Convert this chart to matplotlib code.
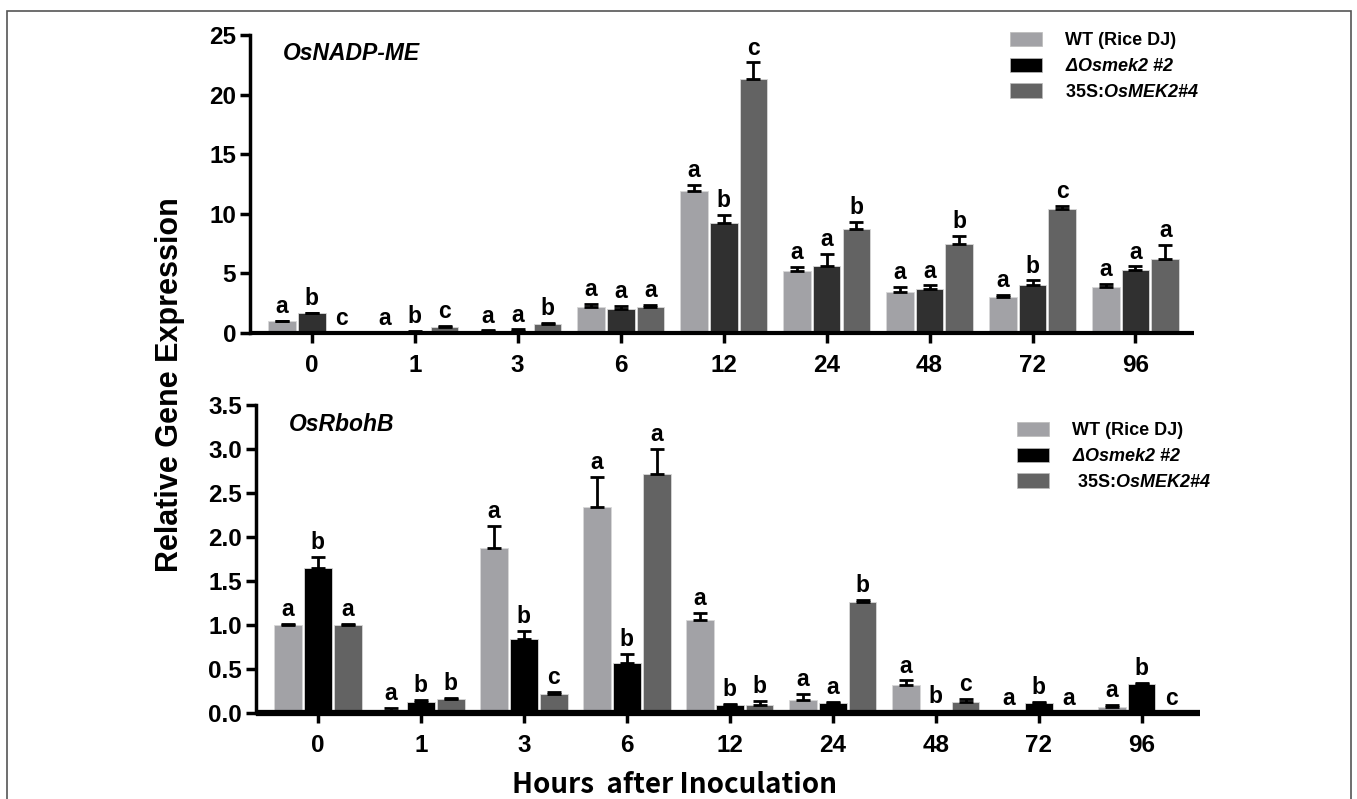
import numpy as np
import matplotlib
matplotlib.use('Agg')
import matplotlib.pyplot as plt
from matplotlib.patches import Patch, Rectangle

plt.rcParams['font.family'] = ['Liberation Sans', 'DejaVu Sans']
plt.rcParams['mathtext.fontset'] = 'custom'
plt.rcParams['mathtext.it'] = 'Liberation Sans:italic:bold'
plt.rcParams['mathtext.rm'] = 'Liberation Sans:italic:bold'

hours = ['0', '1', '3', '6', '12', '24', '48', '72', '96']
series_names = ['WT (Rice DJ)', r'$\mathit{\Delta Osmek2}$ $\mathit{\#2}$',
                r'35S:$\mathit{OsMEK2\#4}$']

# OsNADP-ME (top panel)
nadp_wt = [0.98, 0.0, 0.15, 2.15, 11.9, 5.2, 3.45, 3.0, 3.9]
nadp_wt_err = [0.05, 0.0, 0.08, 0.3, 0.5, 0.33, 0.4, 0.17, 0.22]
nadp_ko = [1.65, 0.1, 0.2, 2.05, 9.2, 5.6, 3.7, 4.05, 5.25]
nadp_ko_err = [0.06, 0.05, 0.1, 0.2, 0.7, 1.05, 0.3, 0.36, 0.34]
nadp_oe = [0.0, 0.5, 0.78, 2.22, 21.3, 8.75, 7.5, 10.4, 6.2]
nadp_oe_err = [0.0, 0.1, 0.1, 0.15, 1.4, 0.6, 0.67, 0.28, 1.2]
nadp_letters = [['a', 'b', 'c'], ['a', 'b', 'c'], ['a', 'a', 'b'],
                ['a', 'a', 'a'], ['a', 'b', 'c'], ['a', 'a', 'b'],
                ['a', 'a', 'b'], ['a', 'b', 'c'], ['a', 'a', 'a']]

# OsRbohB (bottom panel)
rboh_wt = [1.0, 0.02, 1.88, 2.34, 1.06, 0.15, 0.32, 0.0, 0.07]
rboh_wt_err = [0.01, 0.04, 0.25, 0.34, 0.08, 0.07, 0.05, 0.0, 0.02]
rboh_ko = [1.65, 0.13, 0.84, 0.57, 0.09, 0.11, 0.02, 0.11, 0.33]
rboh_ko_err = [0.12, 0.02, 0.09, 0.1, 0.01, 0.02, 0.005, 0.02, 0.01]
rboh_oe = [1.0, 0.16, 0.22, 2.72, 0.09, 1.26, 0.12, 0.0, 0.0]
rboh_oe_err = [0.01, 0.01, 0.02, 0.28, 0.05, 0.03, 0.04, 0.0, 0.0]
rboh_letters = [['a', 'b', 'a'], ['a', 'b', 'b'], ['a', 'b', 'c'],
                ['a', 'b', 'a'], ['a', 'b', 'b'], ['a', 'a', 'b'],
                ['a', 'b', 'c'], ['a', 'b', 'a'], ['a', 'b', 'c']]

c_wt = '#a2a2a6'
c_oe = '#636363'


def draw_panel(ax, vals, errs, letters, colors, gene, ymax, ystep, fmt, spine_w):
    x = np.arange(len(hours))
    offsets = [-0.29, 0.0, 0.29]
    for j in range(3):
        xs = x + offsets[j]
        ax.bar(xs, vals[j], width=0.27, color=colors[j],
               edgecolor='#d8d8d8', linewidth=0.6, zorder=2)
        ax.errorbar(xs, vals[j], yerr=[np.zeros(len(x)), errs[j]], fmt='none',
                    ecolor='black', elinewidth=2, capsize=5, capthick=2, zorder=3)
        for i in range(len(x)):
            top = vals[j][i] + errs[j][i]
            ax.annotate(letters[i][j], (xs[i], top), xytext=(0, 2),
                        textcoords='offset points', ha='center', va='bottom',
                        fontsize=16.5, fontweight='bold')
    ax.set_xlim(-0.6, 8.57)
    ax.set_ylim(0, ymax)
    ax.set_yticks(np.arange(0, ymax + 1e-9, ystep))
    ax.yaxis.set_major_formatter(plt.FormatStrFormatter(fmt))
    ax.set_xticks(x)
    ax.set_xticklabels(hours)
    for s in ['top', 'right']:
        ax.spines[s].set_visible(False)
    ax.spines['left'].set_linewidth(2.5)
    ax.spines['bottom'].set_linewidth(spine_w)
    ax.spines['bottom'].set_capstyle('butt')
    ax.tick_params(axis='both', width=2.5, length=7, labelsize=17.5)
    for lab in ax.get_xticklabels() + ax.get_yticklabels():
        lab.set_fontweight('bold')
    ax.tick_params(axis='x', pad=8)
    ax.tick_params(axis='y', pad=3)
    ax.text(0.035, 0.975, gene, transform=ax.transAxes, fontsize=16.5,
            fontweight='bold', style='italic', va='top', ha='left')


fig = plt.figure(figsize=(13.57, 7.99), dpi=100)

ax1 = fig.add_axes([0.1842, 0.5832, 0.6958, 0.3730])
draw_panel(ax1, [nadp_wt, nadp_ko, nadp_oe], [nadp_wt_err, nadp_ko_err, nadp_oe_err],
           nadp_letters, [c_wt, '#303030', c_oe], 'OsNADP-ME', 25, 5, '%d', 3)

ax2 = fig.add_axes([0.1887, 0.1076, 0.6958, 0.3855])
draw_panel(ax2, [rboh_wt, rboh_ko, rboh_oe], [rboh_wt_err, rboh_ko_err, rboh_oe_err],
           rboh_letters, [c_wt, '#000000', c_oe], 'OsRbohB', 3.5, 0.5, '%.1f', 4.5)

# legends
legend_colors = [c_wt, '#000000', c_oe]
for anchor, names in [
        ((1010 / 1357, 1 - 32 / 799), series_names),
        ((1017 / 1357, 1 - 422 / 799),
         ['WT (Rice DJ)', series_names[1], ' ' + series_names[2]])]:
    handles = [Patch(facecolor=c, edgecolor='#bbbbbb', linewidth=0.5) for c in legend_colors]
    leg = fig.legend(handles, names, loc='upper left', bbox_to_anchor=anchor,
                     frameon=False, fontsize=13, handlelength=1.75, handleheight=0.85,
                     handletextpad=1.3, labelspacing=0.45, borderaxespad=0, borderpad=0)
    for t in leg.get_texts():
        t.set_fontweight('bold')

fig.text(170 / 1357, 1 - 385 / 799, 'Relative Gene Expression', rotation=90,
         fontsize=22, fontweight='bold', ha='center', va='center')
fig.text(674 / 1357, 1 - 785 / 799, 'Hours  after Inoculation', fontsize=20,
         fontweight='bold', ha='center', va='center',
         family=['Noto Sans CJK KR', 'DejaVu Sans'])

fig.patches.append(Rectangle((7 / 1357, -0.05), 1344 / 1357, 1.05 - 11 / 799,
                             transform=fig.transFigure, fill=False,
                             edgecolor='#555555', linewidth=1.2))

fig.savefig('out.png', dpi=100)
